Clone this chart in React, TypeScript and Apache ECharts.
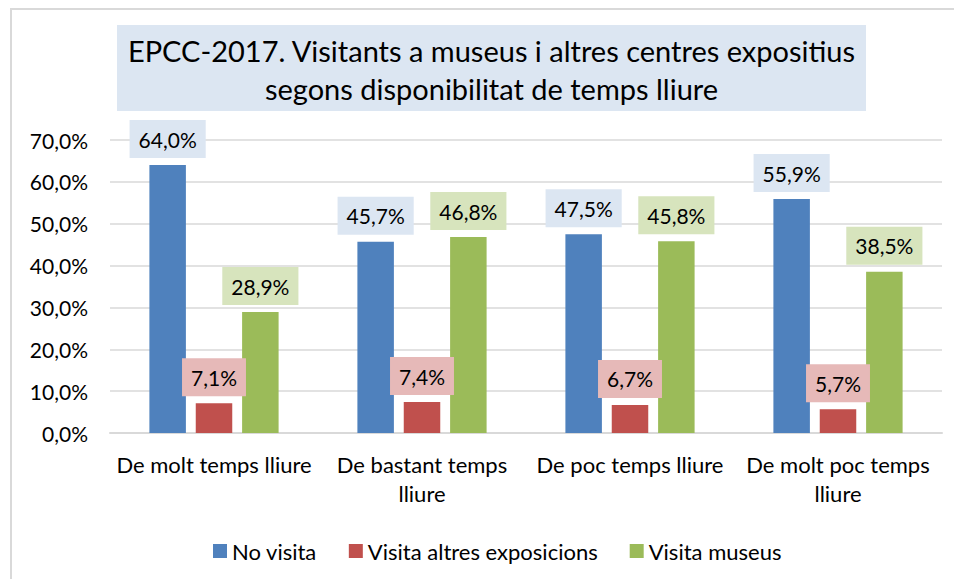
import React, { useEffect, useRef } from "react";
import * as echarts from "echarts";

const titleLines = [
  "EPCC-2017. Visitants a museus i altres centres expositius",
  "segons disponibilitat de temps lliure",
];
const categories = [
  "De molt temps lliure",
  "De bastant temps\nlliure",
  "De poc temps lliure",
  "De molt poc temps\nlliure",
];
const seriesNames = ["No visita", "Visita altres exposicions", "Visita museus"];
const noVisita = [64.0, 45.7, 47.5, 55.9];
const altresExposicions = [7.1, 7.4, 6.7, 5.7];
const visitaMuseus = [28.9, 46.8, 45.8, 38.5];
const yTicks = [0, 10, 20, 30, 40, 50, 60, 70];

const barColors = ["#4f81bd", "#c0504d", "#9bbb59"];
const labelBgs = ["#dce6f2", "#e6b9b8", "#d7e4bd"];
const FONT = "Lato, 'Open Sans', sans-serif";

const fmt = (v: number) => v.toFixed(1).replace(".", ",") + "%";

export default function App() {
  const ref = useRef<HTMLDivElement>(null);
  useEffect(() => {
    if (!ref.current) return;
    const chart = echarts.init(ref.current, undefined, { renderer: "svg" });
    const values = [noVisita, altresExposicions, visitaMuseus];
    chart.setOption({
      animation: false,
      backgroundColor: "#ffffff",
      textStyle: { fontFamily: FONT },
      graphic: [
        {
          type: "rect",
          shape: { x: 11, y: 9, width: 1000, height: 700 },
          style: { fill: "none", stroke: "#d9d9d9", lineWidth: 2 },
          silent: true,
        },
        {
          type: "rect",
          shape: { x: 117, y: 25, width: 749, height: 86 },
          style: { fill: "#dce6f2" },
          silent: true,
        },
        {
          type: "text",
          x: 491.5,
          y: 69,
          style: {
            text: titleLines.join("\n"),
            fontFamily: FONT,
            fontSize: 29,
            lineHeight: 38,
            fill: "#000000",
            align: "center",
            verticalAlign: "middle",
          },
        },
      ],
      legend: {
        left: 208,
        top: 535,
        itemWidth: 14,
        itemHeight: 14,
        itemGap: 32,
        icon: "rect",
        data: seriesNames,
        textStyle: { fontFamily: FONT, fontSize: 22, color: "#000000" },
      },
      grid: { left: 110, right: 12, top: 140, bottom: 146, containLabel: false },
      xAxis: {
        type: "category",
        data: categories,
        axisLine: { lineStyle: { color: "#d9d9d9", width: 2 } },
        axisTick: { show: false },
        axisLabel: {
          interval: 0,
          margin: 17,
          fontFamily: FONT,
          fontSize: 22,
          lineHeight: 29,
          color: "#000000",
          align: "center",
        },
      },
      yAxis: {
        type: "value",
        min: yTicks[0],
        max: yTicks[yTicks.length - 1],
        interval: 10,
        axisLine: { show: false },
        axisTick: { show: false },
        splitLine: { lineStyle: { color: "#d9d9d9", width: 1.5 } },
        axisLabel: {
          margin: 22,
          fontFamily: FONT,
          fontSize: 21,
          color: "#000000",
          formatter: (v: number) => fmt(v),
        },
      },
      series: seriesNames.map((name, i) => ({
        name,
        type: "bar",
        data: values[i],
        barWidth: 36.5,
        barGap: "27%",
        itemStyle: { color: barColors[i] },
        label: {
          show: true,
          position: "top",
          distance: 7,
          formatter: (p: any) => fmt(p.value),
          fontFamily: FONT,
          fontSize: 21,
          lineHeight: 22,
          color: "#000000",
          backgroundColor: labelBgs[i],
          padding: [8, 9, 8, 9],
        },
      })),
    });
    return () => chart.dispose();
  }, []);
  return (
    <div
      ref={ref}
      style={{ position: "fixed", left: 0, top: 0, width: 954, height: 579 }}
    />
  );
}
